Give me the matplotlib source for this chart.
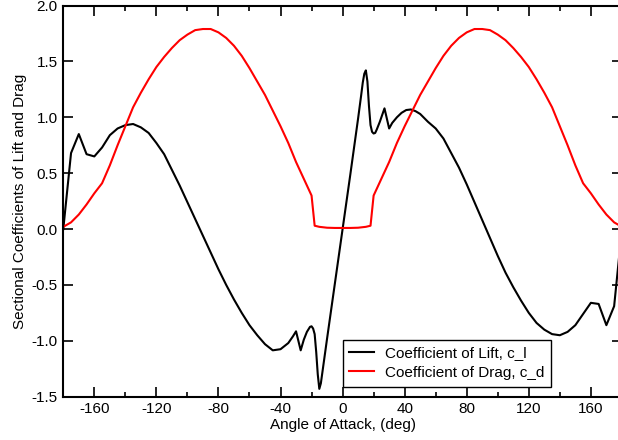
import numpy as np
import matplotlib
matplotlib.use("Agg")
import matplotlib.pyplot as plt
from matplotlib.ticker import MultipleLocator

plt.rcParams['font.family'] = ['Liberation Sans', 'DejaVu Sans']
plt.rcParams['axes.unicode_minus'] = False

# lift coefficient vs angle of attack (deg)
alpha_cl = [-180, -175, -170, -165, -160, -155, -150, -145, -140, -135, -130, -125,
            -120, -115, -110, -105, -100, -95, -90, -85, -80, -75, -70, -65, -60,
            -55, -50, -45, -40, -35, -32, -30, -27, -25, -23, -21, -20, -19, -18,
            -17, -16, -15, -14, -13, -10, -5, 0, 5, 10, 12, 13, 14, 15, 16, 17,
            18, 19, 20, 21, 22, 24, 27, 30, 32, 35, 38, 41, 44, 47, 50, 55, 60,
            65, 70, 75, 80, 85, 90, 95, 100, 105, 110, 115, 120, 125, 130, 135,
            140, 145, 150, 155, 160, 165, 170, 175, 180]
cl = [0.0, 0.68, 0.85, 0.67, 0.65, 0.73, 0.84, 0.90, 0.93, 0.94, 0.91, 0.86,
      0.77, 0.67, 0.53, 0.39, 0.24, 0.09, -0.06, -0.21, -0.36, -0.50, -0.63, -0.75, -0.86,
      -0.95, -1.03, -1.085, -1.075, -1.02, -0.96, -0.915, -1.085, -0.99, -0.92, -0.875, -0.87, -0.89, -0.94,
      -1.10, -1.30, -1.43, -1.38, -1.28, -0.98, -0.49, 0.0, 0.49, 0.99, 1.20, 1.31, 1.39, 1.42, 1.32, 1.10,
      0.93, 0.87, 0.855, 0.86, 0.89, 0.96, 1.08, 0.90, 0.95, 1.00, 1.04, 1.065, 1.07, 1.055, 1.03, 0.96, 0.90,
      0.81, 0.68, 0.55, 0.40, 0.24, 0.08, -0.08, -0.24, -0.39, -0.52, -0.64, -0.75, -0.84, -0.90, -0.94,
      -0.95, -0.92, -0.86, -0.76, -0.66, -0.67, -0.86, -0.69, 0.0]

# drag coefficient vs angle of attack (deg)
alpha_cd = [-180, -175, -170, -165, -160, -155, -150, -145, -140, -135, -130, -125,
            -120, -115, -110, -105, -100, -95, -90, -85, -80, -75, -70, -65, -60,
            -55, -50, -45, -40, -35, -30, -25, -20, -18, -15, -10, -5, 0, 5, 10,
            15, 18, 20, 25, 30, 35, 40, 45, 50, 55, 60, 65, 70, 75, 80, 85, 90,
            95, 100, 105, 110, 115, 120, 125, 130, 135, 140, 145, 150, 155, 160,
            165, 170, 175, 180]
cd = [0.02, 0.06, 0.13, 0.22, 0.32, 0.41, 0.57, 0.75, 0.92, 1.09, 1.22, 1.34,
      1.45, 1.54, 1.62, 1.69, 1.74, 1.78, 1.79, 1.79, 1.76, 1.71, 1.64, 1.55, 1.44,
      1.32, 1.20, 1.06, 0.92, 0.77, 0.60, 0.45, 0.30, 0.03, 0.02, 0.012, 0.01, 0.01, 0.01, 0.012,
      0.02, 0.03, 0.30, 0.45, 0.60, 0.77, 0.92, 1.06, 1.20, 1.32, 1.44, 1.55, 1.64, 1.71, 1.76, 1.79, 1.79,
      1.78, 1.74, 1.69, 1.62, 1.54, 1.45, 1.34, 1.22, 1.09, 0.92, 0.75, 0.57, 0.41, 0.32,
      0.22, 0.13, 0.06, 0.02]

fig = plt.figure(figsize=(6.18, 4.4), dpi=100)
ax = fig.add_axes([0.1024, 0.0984, 0.9039, 0.889])

ax.plot(alpha_cl, cl, color='black', lw=1.5, label='Coefficient of Lift, c_l')
ax.plot(alpha_cd, cd, color='red', lw=1.5, label='Coefficient of Drag, c_d')

ax.set_xlim(-180, 180)
ax.set_ylim(-1.5, 2.0)
ax.set_xticks(np.arange(-160, 161, 40))
ax.xaxis.set_minor_locator(MultipleLocator(20))
ax.set_yticks(np.arange(-1.5, 2.01, 0.5))
ax.yaxis.set_major_formatter(plt.FormatStrFormatter('%.1f'))

ax.tick_params(which='both', direction='in', top=True, right=True, labelsize=11, width=1.2)
ax.tick_params(which='major', length=7.5, pad=4)
ax.tick_params(which='minor', length=3.75)
for s in ax.spines.values():
    s.set_linewidth(1.5)

ax.set_xlabel('Angle of Attack, (deg)', fontsize=11, labelpad=1)
ax.set_ylabel('Sectional Coefficients of Lift and Drag', fontsize=11, labelpad=3)

leg = ax.legend(loc='lower left', bbox_to_anchor=(0.5, 0.0256), borderaxespad=0,
                fontsize=11, fancybox=False, framealpha=1, edgecolor='black',
                handlelength=1.6, borderpad=0.45, labelspacing=0.35, handletextpad=0.7)
leg.get_frame().set_linewidth(1.0)

fig.savefig('out.png', dpi=100)
